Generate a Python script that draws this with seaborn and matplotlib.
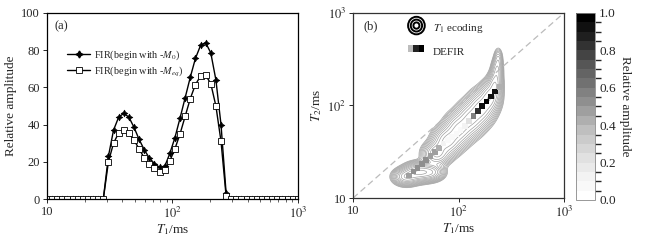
import numpy as np
import pandas as pd
import matplotlib
matplotlib.use("Agg")
import matplotlib.pyplot as plt
import seaborn as sns
from matplotlib.colors import BoundaryNorm
from matplotlib.cm import ScalarMappable
from matplotlib.legend_handler import HandlerBase
from matplotlib.patches import Ellipse, Rectangle
from matplotlib.lines import Line2D
from matplotlib.ticker import FixedLocator, FixedFormatter, LogLocator, NullFormatter

# ---------------- data ----------------
t1_grid = [10.00, 10.99, 12.07, 13.26, 14.56, 16.00, 17.58, 19.31, 21.21, 23.30,
           25.60, 28.12, 30.89, 33.93, 37.28, 40.95, 44.98, 49.42, 54.29, 59.64,
           65.51, 71.97, 79.06, 86.85, 95.41, 104.8, 115.1, 126.5, 139.0, 152.6,
           167.7, 184.2, 202.4, 222.3, 244.2, 268.3, 294.7, 323.7, 355.7, 390.7,
           429.2, 471.5, 518.0, 569.0, 625.1, 686.6, 754.3, 828.6, 910.3, 1000.0]

fir_m0 = [0] * 12 + [23, 37, 44, 46, 44, 38.5, 32, 26.5, 22, 19, 17, 17.5,
                     24.5, 33, 43.5, 54.5, 65.5, 75.5, 82.5, 84, 78.5, 64, 40, 3] + [0] * 14
fir_meq = [0] * 12 + [20, 30, 35.5, 37, 35.5, 31.5, 27, 22, 19, 16.5, 14.5, 15.5,
                      20.5, 27, 35, 44.5, 54, 61.5, 66, 66.5, 62, 50, 31, 1.5] + [0] * 14

# DEFIR points (panel b)
defir_t1 = [33.93, 37.28, 40.95, 44.98, 49.42, 54.29, 59.64, 65.51, 71.97, 79.06,
            86.85, 95.41, 104.8, 115.1, 126.5, 139.0, 152.6, 167.7, 184.2, 202.4,
            222.3, 244.2]
defir_t2 = [17.6, 19.3, 21.2, 23.3, 25.7, 28.3, 31.3, 34.7, 38.9, 42.2,
            45.7, 49.5, 54.3, 60.3, 67.6, 76.7, 87.1, 98.9, 110.9, 124.5,
            141.3, 158.5]
defir_amp = [0.45, 0.5, 0.5, 0.5, 0.5, 0.45, 0.45, 0.4, 0.1, 0.05,
             0.05, 0.05, 0.05, 0.1, 0.2, 0.55, 0.85, 0.95, 1.0, 0.95,
             0.9, 0.4]

# T1-encoding ridge (centres, amplitudes, log-widths)
ridge_t1 = [32, 42, 55, 62, 78, 100, 130, 165, 200, 222, 232, 238]
ridge_t2 = [17, 19, 19, 30, 41, 55, 72, 95, 125, 170, 240, 320]
ridge_amp = [0.7, 1.0, 0.6, 0.6, 0.6, 0.55, 0.55, 0.6, 0.6, 0.45, 0.28, 0.14]
ridge_sx = [0.06, 0.07, 0.06, 0.065, 0.07, 0.07, 0.07, 0.065, 0.05, 0.035, 0.028, 0.022]
ridge_sy = [0.045, 0.05, 0.045, 0.065, 0.08, 0.09, 0.095, 0.095, 0.085, 0.075, 0.07, 0.06]

x_ticks = [10, 100, 1000]
x_ticklabels = ["10", "$10^2$", "$10^3$"]
cbar_ticks = [0.0, 0.2, 0.4, 0.6, 0.8, 1.0]

# ---------------- style ----------------
sns.set_theme(style="ticks")
plt.rcParams["font.family"] = ["Liberation Serif", "DejaVu Serif"]
plt.rcParams["mathtext.fontset"] = "stix"
plt.rcParams["font.size"] = 9
plt.rcParams["xtick.labelsize"] = 9
plt.rcParams["ytick.labelsize"] = 9

fig = plt.figure(figsize=(6.53, 2.43), dpi=100)

# ---------------- panel (a) ----------------
ax1 = fig.add_axes([0.072, 0.181, 0.384, 0.766])
df = pd.DataFrame({"T1": t1_grid, "m0": fir_m0, "meq": fir_meq})
sns.lineplot(data=df, x="T1", y="m0", ax=ax1, color="black", lw=1.0,
             marker=(4, 1, 0), markersize=5, markeredgewidth=0.4,
             markeredgecolor="black", markerfacecolor="black")
sns.lineplot(data=df, x="T1", y="meq", ax=ax1, color="black", lw=1.0,
             marker="s", markersize=3.8, markeredgewidth=0.6,
             markeredgecolor="black", markerfacecolor="white")
ax1.set_xscale("log")
ax1.set_xlim(10, 1000)
ax1.set_ylim(0, 100)
ax1.set_yticks([0, 20, 40, 60, 80, 100])
ax1.xaxis.set_major_locator(FixedLocator(x_ticks))
ax1.xaxis.set_major_formatter(FixedFormatter(x_ticklabels))
ax1.xaxis.set_minor_locator(LogLocator(base=10, subs=np.arange(2, 10)))
ax1.xaxis.set_minor_formatter(NullFormatter())
ax1.set_xlabel("$T_1$/ms", fontsize=9.5, labelpad=1)
ax1.set_ylabel("Relative amplitude", fontsize=9.5, labelpad=3)
for s in ax1.spines.values():
    s.set_visible(True)
    s.set_linewidth(0.9)
    s.set_color("black")
ax1.tick_params(which="major", direction="out", length=3, width=0.7, pad=2)
ax1.tick_params(which="minor", direction="out", length=1.8, width=0.5)
ax1.text(0.03, 0.96, "(a)", transform=ax1.transAxes, ha="left", va="top", fontsize=9)
h1 = Line2D([], [], color="black", lw=1.0, marker=(4, 1, 0), markersize=5,
            markerfacecolor="black", markeredgecolor="black")
h2 = Line2D([], [], color="black", lw=1.0, marker="s", markersize=3.8,
            markerfacecolor="white", markeredgecolor="black", markeredgewidth=0.6)
ax1.legend([h1, h2], ["FIR(begin with -$M_0$)", "FIR(begin with -$M_{eq}$)"],
           loc="upper left", bbox_to_anchor=(0.065, 0.83), frameon=False,
           fontsize=7.4, handlelength=2.2, handletextpad=0.35, labelspacing=0.15,
           borderaxespad=0)

# ---------------- panel (b) ----------------
ax2 = fig.add_axes([0.5406, 0.185, 0.3231, 0.762])
ax2.set_xscale("log")
ax2.set_yscale("log")

lx = np.linspace(1, 3, 400)
ly = np.linspace(1, 3, 400)
LX, LY = np.meshgrid(lx, ly)
Z = np.zeros_like(LX)
for t1, t2, a, sx, sy in zip(ridge_t1, ridge_t2, ridge_amp, ridge_sx, ridge_sy):
    Z += a * np.exp(-((LX - np.log10(t1)) ** 2 / (2 * sx ** 2)
                      + (LY - np.log10(t2)) ** 2 / (2 * sy ** 2)))
Z /= Z.max()
ax2.contour(10 ** LX, 10 ** LY, Z, levels=np.geomspace(0.02, 0.9, 13),
            colors="#a0a0a0", linewidths=0.5)

ax2.axline((10, 10), (1000, 1000), color="#bbbbbb", lw=0.9, dashes=(5, 3))

cmap = plt.get_cmap("Greys")
bounds = np.linspace(0, 1, 21)
norm = BoundaryNorm(bounds, cmap.N)
ddf = pd.DataFrame({"T1": defir_t1, "T2": defir_t2, "amp": defir_amp})
sns.scatterplot(data=ddf, x="T1", y="T2", hue="amp", palette=cmap, hue_norm=norm,
                marker="s", s=16, linewidth=0, ax=ax2, legend=False, zorder=5)
ax2.set_xscale("log")
ax2.set_yscale("log")
ax2.set_xlim(10, 1000)
ax2.set_ylim(10, 1000)
for axis in (ax2.xaxis, ax2.yaxis):
    axis.set_major_locator(FixedLocator(x_ticks))
    axis.set_major_formatter(FixedFormatter(x_ticklabels))
    axis.set_minor_locator(LogLocator(base=10, subs=np.arange(2, 10)))
    axis.set_minor_formatter(NullFormatter())
ax2.tick_params(which="major", direction="out", length=3, width=0.7, pad=2)
ax2.tick_params(which="minor", length=0)
ax2.set_xlabel("$T_1$/ms", fontsize=9.5, labelpad=1)
ax2.set_ylabel("$T_2$/ms", fontsize=9.5, labelpad=2)
for s in ax2.spines.values():
    s.set_visible(True)
    s.set_linewidth(0.9)
    s.set_color("#333333")
ax2.text(0.05, 0.96, "(b)", transform=ax2.transAxes, ha="left", va="top", fontsize=9)


class ContourHandler(HandlerBase):
    def create_artists(self, legend, orig, xd, yd, w, h, fs, trans):
        cx, cy = xd + w / 2, yd + h / 2
        arts = []
        for k in (1.0, 0.68, 0.36):
            e = Ellipse((cx, cy), w * 1.0 * k, h * 1.9 * k, fill=False,
                        lw=1.4, edgecolor="black", transform=trans)
            arts.append(e)
        return arts


class SquaresHandler(HandlerBase):
    def create_artists(self, legend, orig, xd, yd, w, h, fs, trans):
        arts = []
        cols = ["#bdbdbd", "#222222", "#000000"]
        sw = w / 3.2
        for i, c in enumerate(cols):
            r = Rectangle((xd + i * sw, yd + h * 0.15), sw, h * 0.75, facecolor=c,
                          edgecolor="none", transform=trans)
            arts.append(r)
        return arts


ch = object()
sh = Rectangle((0, 0), 1, 1)
ax2.legend([ch, sh], ["$T_1$ ecoding", "DEFIR"],
           handler_map={ch.__class__: ContourHandler(), Rectangle: SquaresHandler()},
           loc="upper left", bbox_to_anchor=(0.24, 0.975), frameon=False,
           fontsize=8, handlelength=1.5, handleheight=0.9, handletextpad=0.7,
           labelspacing=1.0, borderaxespad=0)

# ---------------- colorbar ----------------
cax = fig.add_axes([0.882, 0.177, 0.029, 0.770])
sm = ScalarMappable(norm=norm, cmap=cmap)
cb = fig.colorbar(sm, cax=cax, ticks=cbar_ticks, spacing="proportional")
cb.ax.set_yticklabels([f"{t:.1f}" for t in cbar_ticks])
cb.outline.set_edgecolor("#888888")
cb.outline.set_linewidth(0.6)
cb.ax.tick_params(length=0, pad=3, labelsize=9.5)
cb.set_label("Relative amplitude", rotation=270, fontsize=9.5, labelpad=11)

fig.savefig("out.png", dpi=100)
